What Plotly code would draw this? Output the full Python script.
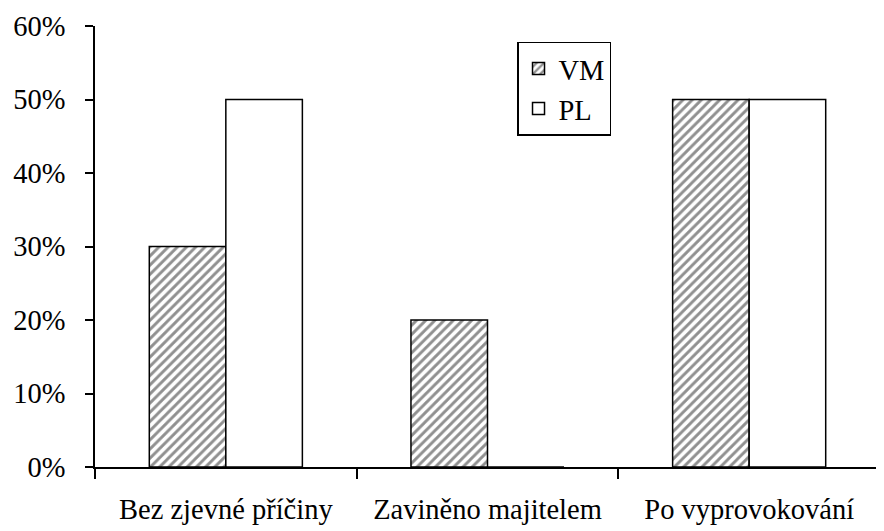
import plotly.graph_objects as go

categories = ["Bez zjevné příčiny", "Zaviněno majitelem", "Po vyprovokování"]
vm_values = [30, 20, 50]
pl_values = [50, 0, 50]
y_ticks = [0, 10, 20, 30, 40, 50, 60]
y_tick_labels = ["0%", "10%", "20%", "30%", "40%", "50%", "60%"]

FONT = "Liberation Serif, Times New Roman, serif"
FS = 28.5

fig = go.Figure()
fig.add_trace(go.Bar(
    name="VM", x=categories, y=vm_values, legendgroup="vm",
    marker=dict(color="white", line=dict(color="black", width=1.5),
                pattern=dict(shape="/", fgcolor="#222222", bgcolor="white",
                             size=6.5, solidity=0.45, fillmode="overlay")),
))
fig.add_trace(go.Bar(
    name="PL", x=categories, y=pl_values, legendgroup="pl",
    marker=dict(color="white", line=dict(color="black", width=1.5)),
))

fig.update_layout(
    width=884, height=531,
    margin=dict(l=87, r=12, t=18, b=72, autoexpand=False),
    paper_bgcolor="white", plot_bgcolor="white",
    barmode="group", bargap=0.415, bargroupgap=0,
    font=dict(family=FONT, size=FS, color="black"),
    showlegend=True,
    legend=dict(x=0.5376, y=0.964, xanchor="left", yanchor="top",
                bordercolor="black", borderwidth=1.5, bgcolor="white",
                font=dict(family=FONT, size=FS, color="black"),
                tracegroupgap=18, traceorder="normal",
                itemwidth=30),
    xaxis=dict(showline=True, linecolor="black", linewidth=1.5,
               ticks="outside", tickson="boundaries", ticklen=10,
               tickcolor="black", tickwidth=1.5, showgrid=False,
               ticklabelstandoff=16, automargin=False,
               tickfont=dict(family=FONT, size=FS, color="black")),
    yaxis=dict(range=[0, 60], showline=True, linecolor="black", linewidth=1.5,
               ticks="outside", ticklen=8, tickcolor="black", tickwidth=1.5,
               tickvals=y_ticks, ticktext=y_tick_labels, showgrid=False,
               zeroline=False, ticklabelstandoff=14, automargin=False,
               tickfont=dict(family=FONT, size=FS, color="black")),
)

fig.write_html("out.html")
